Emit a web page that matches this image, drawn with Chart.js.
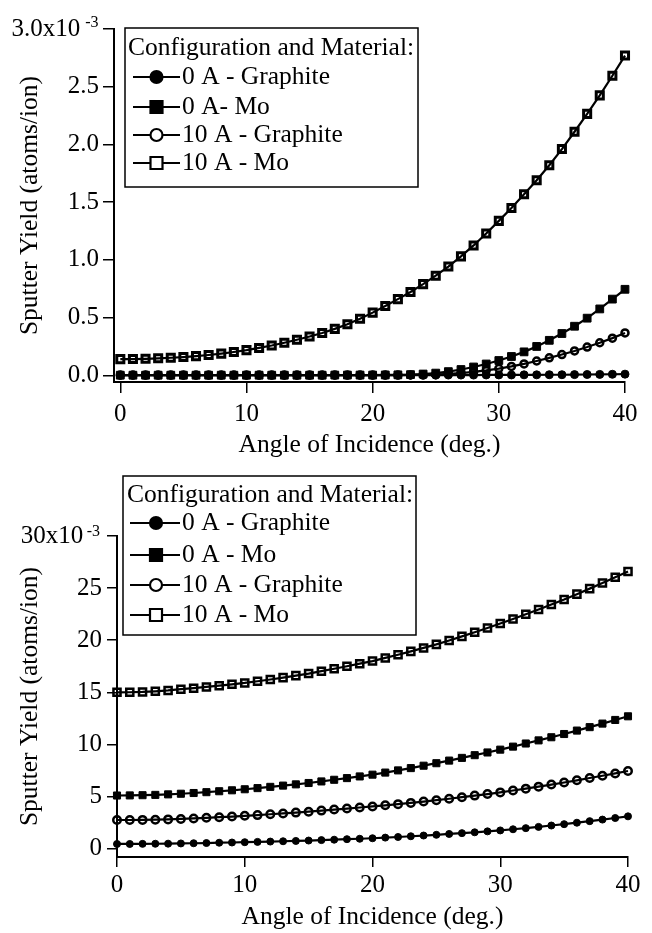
<!DOCTYPE html>
<html>
<head>
<meta charset="utf-8">
<script src="https://cdn.jsdelivr.net/npm/chart.js@4.4.1/dist/chart.umd.min.js"></script>
<style>
  html, body { margin: 0; padding: 0; background: #fff; }
  #wrap { position: relative; width: 652px; height: 933px; }
  canvas { position: absolute; left: 0; }
</style>
</head>
<body>
<div id="wrap">
  <canvas id="topChart" width="652" height="470" style="top:0"></canvas>
  <canvas id="bottomChart" width="652" height="463" style="top:470px"></canvas>
</div>
<script>
// angle of incidence, degrees
const angles = [0,1,2,3,4,5,6,7,8,9,10,11,12,13,14,15,16,17,18,19,20,
                21,22,23,24,25,26,27,28,29,30,31,32,33,34,35,36,37,38,39,40];

// upper panel, sputter yield in 1e-3 atoms/ion
const top0AGraphite = [0.001,0.001,0.001,0.001,0.001,0.001,0.001,0.001,0.001,0.001,0.001,
                       0.001,0.001,0.001,0.001,0.001,0.001,0.001,0.001,0.001,0.001,
                       0.001,0.001,0.001,0.001,0.001,0.002,0.002,0.002,0.003,0.003,
                       0.003,0.004,0.004,0.005,0.005,0.006,0.007,0.008,0.009,0.010];
const top0AMo = [0.001,0.001,0.001,0.001,0.001,0.001,0.001,0.001,0.001,0.001,0.001,
                 0.001,0.001,0.001,0.001,0.001,0.001,0.002,0.002,0.002,0.002,
                 0.003,0.004,0.006,0.011,0.019,0.032,0.050,0.072,0.098,0.128,
                 0.163,0.203,0.250,0.303,0.362,0.425,0.495,0.575,0.660,0.745];
const top10AGraphite = [0.002,0.002,0.002,0.002,0.002,0.002,0.002,0.002,0.002,0.002,0.002,
                        0.002,0.002,0.002,0.002,0.002,0.002,0.002,0.002,0.002,0.002,
                        0.002,0.002,0.003,0.004,0.007,0.012,0.019,0.029,0.042,0.058,
                        0.077,0.099,0.124,0.151,0.180,0.211,0.245,0.282,0.322,0.367];
const top10AMo = [0.140,0.141,0.143,0.147,0.152,0.158,0.166,0.176,0.188,0.202,0.218,
                  0.237,0.258,0.282,0.308,0.336,0.367,0.402,0.443,0.490,0.543,
                  0.600,0.660,0.722,0.790,0.863,0.942,1.030,1.125,1.228,1.338,
                  1.450,1.568,1.690,1.820,1.960,2.110,2.265,2.425,2.595,2.770];

// lower panel, sputter yield in 1e-3 atoms/ion
const bot0AGraphite = [0.45,0.45,0.46,0.47,0.48,0.50,0.52,0.54,0.57,0.59,0.62,
                       0.65,0.68,0.71,0.74,0.78,0.82,0.86,0.91,0.95,1.00,
                       1.06,1.12,1.19,1.26,1.33,1.41,1.49,1.57,1.66,1.75,
                       1.86,1.97,2.09,2.22,2.35,2.49,2.64,2.79,2.94,3.10];
const bot0AMo = [5.10,5.11,5.13,5.16,5.21,5.27,5.34,5.42,5.51,5.60,5.70,
                 5.81,5.93,6.05,6.17,6.30,6.45,6.61,6.77,6.93,7.10,
                 7.30,7.51,7.73,7.96,8.20,8.45,8.71,8.97,9.23,9.50,
                 9.79,10.09,10.39,10.69,11.00,11.33,11.66,12.00,12.35,12.70];
const bot10AGraphite = [2.75,2.75,2.76,2.78,2.81,2.85,2.90,2.96,3.02,3.08,3.15,
                        3.22,3.30,3.38,3.46,3.55,3.65,3.75,3.85,3.95,4.05,
                        4.16,4.27,4.39,4.52,4.65,4.79,4.94,5.09,5.24,5.40,
                        5.58,5.76,5.95,6.15,6.35,6.56,6.78,7.00,7.22,7.45];
const bot10AMo = [15.00,15.01,15.04,15.10,15.18,15.30,15.40,15.52,15.64,15.77,15.90,
                  16.06,16.23,16.41,16.60,16.80,17.03,17.26,17.50,17.75,18.00,
                  18.30,18.61,18.93,19.26,19.60,19.98,20.37,20.77,21.18,21.60,
                  22.04,22.49,22.95,23.42,23.90,24.42,24.95,25.49,26.04,26.60];

const topNames = ['0 A - Graphite', '0 A- Mo', '10 A - Graphite', '10 A - Mo'];
const botNames = ['0 A - Graphite', '0 A - Mo', '10 A - Graphite', '10 A - Mo'];

const xTicks = [0, 10, 20, 30, 40];
const xLabels = ['0', '10', '20', '30', '40'];
const topYTicks = [0, 0.5, 1, 1.5, 2, 2.5, 3];
const topYLabels = ['0.0', '0.5', '1.0', '1.5', '2.0', '2.5', '3.0x10   '];
const botYTicks = [0, 5, 10, 15, 20, 25, 30];
const botYLabels = ['0', '5', '10', '15', '20', '25', '30x10   '];
const exponent = '-3';

const legendTitle = 'Configuration and Material:';
const xTitle = 'Angle of Incidence (deg.)';
const yTitle = 'Sputter Yield (atoms/ion)';

const FAMILY = '"Liberation Serif", "Times New Roman", serif';
const TEXT_SIZE = 25.5;
const TICK_SIZE = 25;

// marker looks, in legend order
const marks = [
  { style: 'circle', fill: '#000' },
  { style: 'rect',   fill: '#000' },
  { style: 'circle', fill: 'rgba(0,0,0,0)' },
  { style: 'rect',   fill: 'rgba(0,0,0,0)' }
];

// draws the boxed legend with line+marker samples
const boxLegend = {
  id: 'boxLegend',
  afterDraw(chart, args, o) {
    const ctx = chart.ctx;
    ctx.save();
    ctx.strokeStyle = '#000';
    ctx.fillStyle = '#000';
    ctx.lineWidth = 1.5;
    ctx.strokeRect(o.left, o.top, o.right - o.left, o.bottom - o.top);
    ctx.font = TEXT_SIZE + 'px ' + FAMILY;
    ctx.textBaseline = 'middle';
    ctx.textAlign = 'left';
    ctx.fillText(legendTitle, o.titleX, o.titleY);
    chart.data.datasets.forEach((ds, i) => {
      const y = o.rows[i];
      ctx.lineWidth = 2.2;
      ctx.beginPath();
      ctx.moveTo(o.lineX0, y);
      ctx.lineTo(o.lineX1, y);
      ctx.stroke();
      ctx.fillStyle = marks[i].fill === '#000' ? '#000' : '#fff';
      ctx.beginPath();
      if (marks[i].style === 'rect') ctx.rect(o.markX - 6, y - 6, 12, 12);
      else ctx.arc(o.markX, y, 6, 0, Math.PI * 2);
      ctx.fill();
      ctx.stroke();
      ctx.fillStyle = '#000';
      ctx.fillText(ds.label, o.textX, y);
    });
    ctx.restore();
  }
};

// superscript exponent next to the top y tick
const tickExponent = {
  id: 'tickExponent',
  afterDraw(chart, args, o) {
    const s = chart.scales.y;
    const ctx = chart.ctx;
    ctx.save();
    ctx.font = '16px ' + FAMILY;
    ctx.fillStyle = '#000';
    ctx.textAlign = 'right';
    ctx.textBaseline = 'alphabetic';
    ctx.fillText(exponent, o.x, s.getPixelForValue(s.max) + o.dy);
    ctx.restore();
  }
};

function makePanel(id, series, names, p) {
  const datasets = series.map((vals, i) => ({
    label: names[i],
    data: angles.map((a, j) => ({ x: a, y: vals[j] })),
    borderColor: '#000',
    borderWidth: 2.2,
    pointStyle: marks[i].style,
    pointBackgroundColor: marks[i].fill,
    pointBorderColor: '#000',
    pointRadius: p.radius[i],
    pointBorderWidth: p.pointBorder[i],
    tension: 0,
    clip: false
  }));

  const tickFont = { family: FAMILY, size: TICK_SIZE };
  const titleFont = { family: FAMILY, size: TEXT_SIZE };
  const grid = { drawOnChartArea: false, drawTicks: true, tickLength: p.tickLength, color: '#000', lineWidth: 1.5 };
  const border = { display: true, color: '#000', width: 2 };

  return new Chart(document.getElementById(id), {
    type: 'line',
    data: { datasets },
    plugins: [boxLegend, tickExponent],
    options: {
      responsive: false,
      animation: false,
      layout: { padding: { left: 0, top: p.area.top, right: 652 - p.area.right, bottom: 0 } },
      scales: {
        x: {
          type: 'linear',
          min: p.xMin, max: 40,
          afterBuildTicks: s => { s.ticks = xTicks.map(v => ({ value: v })); },
          afterFit: s => { s.height = p.height - p.area.bottom; },
          ticks: { callback: (v, i) => xLabels[i], font: tickFont, color: '#000', padding: p.xPad, maxRotation: 0 },
          grid, border,
          title: { display: true, text: xTitle, font: titleFont, color: '#000', padding: { top: 0, bottom: p.xTitlePad } }
        },
        y: {
          type: 'linear',
          min: p.yMin, max: p.yMax,
          afterBuildTicks: s => { s.ticks = p.yTicks.map(v => ({ value: v })); },
          afterFit: s => { s.width = p.area.left; },
          ticks: { callback: (v, i) => p.yLabels[i], font: tickFont, color: '#000', padding: p.yPad },
          grid, border,
          title: { display: true, text: yTitle, font: titleFont, color: '#000', padding: { top: 15, bottom: 0 } }
        }
      },
      plugins: {
        legend: { display: false },
        tooltip: { enabled: false },
        boxLegend: p.legend,
        tickExponent: p.exp
      }
    }
  });
}

makePanel('topChart', [top0AGraphite, top0AMo, top10AGraphite, top10AMo], topNames, {
  height: 470,
  area: { left: 114, top: 29, right: 625, bottom: 382 },
  xMin: -0.5, yMin: -0.058, yMax: 3,
  yTicks: topYTicks, yLabels: topYLabels,
  tickLength: 11, xPad: 6, yPad: 4, xTitlePad: 9,
  radius: [4, 5.5, 3.5, 5], pointBorder: [1, 1, 2.5, 3],
  legend: { left: 125, top: 28, right: 418, bottom: 187, titleX: 128, titleY: 48,
            rows: [77, 107, 135, 163], lineX0: 133, lineX1: 180, markX: 156.5, textX: 182 },
  exp: { x: 98.5, dy: -2 }
});

makePanel('bottomChart', [bot0AGraphite, bot0AMo, bot10AGraphite, bot10AMo], botNames, {
  height: 463,
  area: { left: 117, top: 66, right: 628, bottom: 387 },
  xMin: 0, yMin: -0.8, yMax: 30,
  yTicks: botYTicks, yLabels: botYLabels,
  tickLength: 10, xPad: 3, yPad: 5, xTitlePad: 0,
  radius: [3.5, 5, 3.75, 5], pointBorder: [1, 1, 2.5, 2.5],
  legend: { left: 123, top: 6, right: 416, bottom: 165, titleX: 127, titleY: 25,
            rows: [53, 85, 115, 145], lineX0: 130, lineX1: 180, markX: 156, textX: 182 },
  exp: { x: 100, dy: 0 }
});
</script>
</body>
</html>
